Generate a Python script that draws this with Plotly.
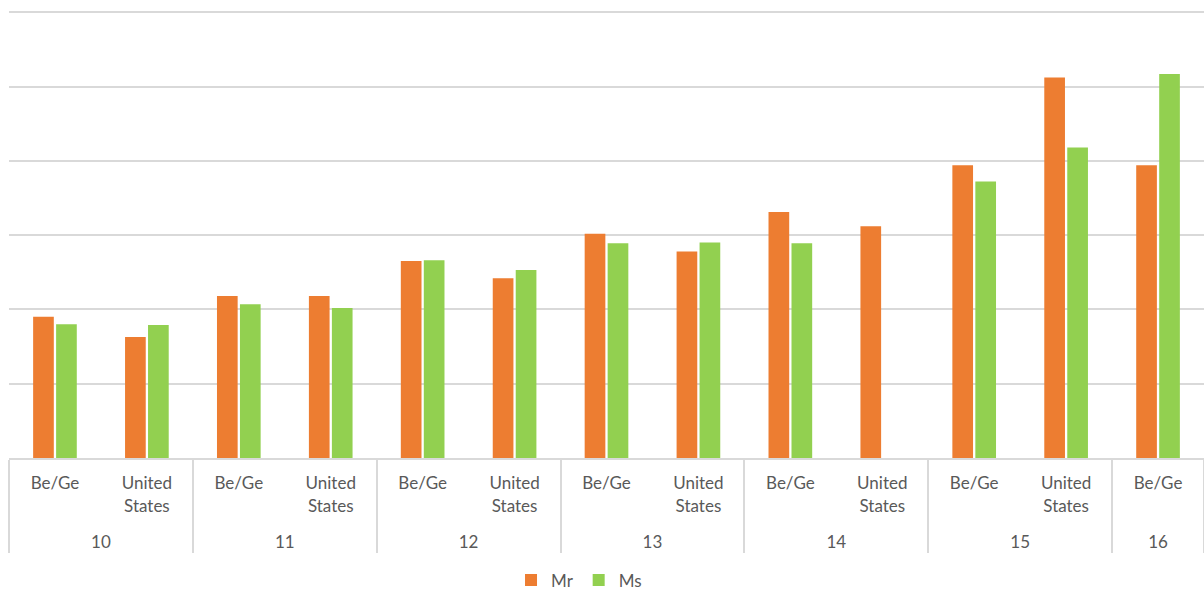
import plotly.graph_objects as go

groups = ["10", "10", "11", "11", "12", "12", "13", "13", "14", "14", "15", "15", "16"]
subcats = ["Be/Ge", "United<br>States"] * 6 + ["Be/Ge"]
mr_values = [1.90, 1.63, 2.18, 2.18, 2.65, 2.42, 3.02, 2.78, 3.31, 3.12, 3.94, 5.12, 3.94]
ms_values = [1.80, 1.79, 2.07, 2.02, 2.66, 2.53, 2.89, 2.90, 2.89, None, 3.72, 4.18, 5.17]

ORANGE = "#ED7D31"
GREEN = "#92D050"
TEXT = "#595959"
GRID = "#D9D9D9"

# extra blank line under the inner labels to push the outer (group) row down
inner_labels = [s + "<br>\u00a0" for s in subcats]

fig = go.Figure()
fig.add_trace(go.Bar(name="Mr", x=[groups, inner_labels], y=mr_values, marker_color=ORANGE, marker_line_width=0))
fig.add_trace(go.Bar(name="Ms", x=[groups, inner_labels], y=ms_values, marker_color=GREEN, marker_line_width=0))

fig.update_layout(
    width=1204, height=605,
    margin=dict(l=9, r=0, t=10, b=147),
    paper_bgcolor="white", plot_bgcolor="white",
    barmode="group", bargap=0.5, bargroupgap=0.1,
    font=dict(family="Lato, Open Sans, sans-serif", size=17, color=TEXT),
    legend=dict(orientation="h", x=0.477, xanchor="center", y=-0.2735, yanchor="middle",
                font=dict(size=17, color=TEXT), itemwidth=30, traceorder="normal"),
    showlegend=True,
)
fig.update_xaxes(
    type="multicategory", showline=True, linecolor=GRID, linewidth=2,
    showdividers=True, dividercolor=GRID, dividerwidth=2,
    ticks="", showgrid=False, tickfont=dict(size=17, color=TEXT),
    ticklabelstandoff=9,
)
fig.update_yaxes(
    range=[0, 6.03], dtick=1, showticklabels=False, showgrid=True, gridcolor=GRID, gridwidth=2,
    zeroline=False, showline=False, ticks="",
)

fig.write_html("out.html")
